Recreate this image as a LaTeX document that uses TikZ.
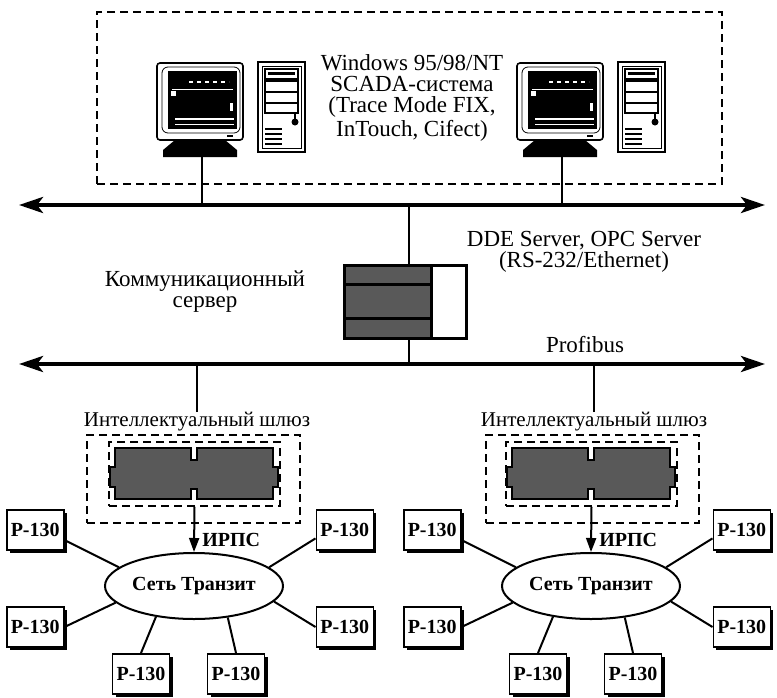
\documentclass[tikz,border=0pt]{standalone}
\usepackage{fontspec}
\setmainfont{Liberation Serif}
\usetikzlibrary{positioning, shapes.geometric, arrows.meta, shadows}

\tikzset{
  % workstation: monitor and tower
  pc/.pic={
    \draw[line width=0.8pt, fill=white, rounded corners=1.5pt] (0,0) rectangle (86,77);
    \draw[line width=0.4pt, rounded corners=3pt] (5,4) rectangle (83,70);
    \fill[black] (11,8) rectangle (80,66);
    \draw[white, line width=1.2pt, dash pattern=on 2pt off 2pt] (32,19) -- (72,19);
    \draw[white, line width=0.4pt] (15,26) -- (76,26);
    \fill[white] (14,28) rectangle (19,33);
    \fill[white] (73,40) rectangle (76,48);
    \draw[white, line width=1.2pt] (18,56) -- (77,56);
    \draw[white, line width=0.4pt] (18,61) -- (77,61);
    \draw[line width=0.8pt] (70,73) -- (76,73);
    \fill[black] (18,77) -- (68,77) -- (80,87) -- (80,94) -- (6,94) -- (6,87) -- cycle;
    \draw[line width=1.2pt, fill=white] (101,-1) rectangle (148,89);
    \draw[line width=0.4pt] (105,3) rectangle (144,85);
    \draw[line width=0.6pt] (108,6) rectangle (141,16);
    \fill (111,9) rectangle (138,12);
    \draw[line width=0.6pt] (108,18) rectangle (141,50);
    \draw[line width=0.6pt] (108,29) -- (141,29);
    \draw[line width=0.6pt] (108,40) -- (141,40);
    \draw[line width=0.6pt] (138,50) -- (138,56);
    \fill (138,59) circle (3.5);
    \draw[line width=1pt] (108,66) -- (125,66);
    \draw[line width=1pt] (108,71) -- (125,71);
    \draw[line width=1pt] (108,76) -- (125,76);
    \draw[line width=1pt] (108,81) -- (125,81);
  },
  % gateway board
  board/.pic={
    \draw[line width=1pt, fill=black!65]
      (5,0) -- (81,0) -- (81,12) -- (87,12) -- (87,0) -- (163,0) -- (163,19)
      -- (168,19) -- (168,39) -- (163,39) -- (163,51) -- (87,51) -- (87,41)
      -- (81,41) -- (81,51) -- (5,51) -- (5,39) -- (0,39) -- (0,19) -- (5,19) -- cycle;
  }
}

\begin{document}
\begin{tikzpicture}[x=0.5pt, y=-0.5pt,
  bus/.style={line width=2pt, {Stealth[length=12pt,width=8pt,inset=3pt]}-{Stealth[length=12pt,width=8pt,inset=3pt]}},
  wire/.style={line width=1pt},
  zone/.style={draw, line width=1.2pt, dash pattern=on 4pt off 2.5pt, inner sep=0pt},
  inzone/.style={draw, line width=0.9pt, dash pattern=on 4pt off 2.5pt, inner sep=0pt},
  modem/.style={draw, fill=white, line width=0.8pt, minimum width=28.5pt, minimum height=20pt,
    inner sep=0pt, font=\fontsize{10}{12}\selectfont\bfseries,
    drop shadow={opacity=1, fill=black, shadow xshift=1.5pt, shadow yshift=-1.5pt}},
  net/.style={draw, ellipse, fill=white, line width=1pt, minimum width=89pt, minimum height=33pt,
    inner sep=0pt, font=\fontsize{10}{12}\selectfont\bfseries},
  lbl/.style={align=center, inner sep=0pt, font=\fontsize{11.5}{10.5}\selectfont},
  gwtext/.style={inner sep=0pt, font=\fontsize{10.5}{12}\selectfont},
  irps/.style={inner sep=0pt, anchor=west, font=\fontsize{10}{12}\selectfont\bfseries}
]
  \useasboundingbox (0,0) rectangle (777,697);

  % operator level
  \node[zone, minimum width=312.5pt, minimum height=86pt] (scada) at (409.5,98) {};
  \pic at (157,63) {pc};
  \pic at (517,63) {pc};
  \coordinate (pcL) at (202,157);
  \coordinate (pcR) at (562,157);
  \node[lbl] (sys) at (412,98) {Windows 95/98/NT\\SCADA-система\\(Trace Mode FIX,\\InTouch, Cifect)};

  % buses
  \coordinate (aL) at (19,205);
  \coordinate (aR) at (765,205);
  \coordinate (bL) at (19,364);
  \coordinate (bR) at (765,364);
  \draw[bus] (aL) -- (aR);
  \draw[bus] (bL) -- (bR);

  % communication server
  \fill[black!65] (344,265) rectangle (431,338);
  \draw[line width=1.5pt] (344,284) -- (431,284);
  \draw[line width=1.5pt] (344,318) -- (431,318);
  \draw[line width=1.5pt] (431,265) -- (431,338);
  \node[draw, line width=1.5pt, minimum width=61pt, minimum height=36.5pt, inner sep=0pt] (srv) at (405,301.5) {};
  \node[lbl] (comm) at (205,292) {Коммуникационный\\сервер};
  \node[lbl] (dde) at (584,252) {DDE Server, OPC Server\\(RS-232/Ethernet)};
  \node[lbl] (pb) at (585,345) {Profibus};

  % gateways
  \node[gwtext] (lblL) at (197,422) {Интеллектуальный шлюз};
  \node[gwtext] (lblR) at (594,422) {Интеллектуальный шлюз};
  \node[zone, minimum width=106.5pt, minimum height=44pt] (zoneL) at (193.5,479) {};
  \node[zone, minimum width=106.5pt, minimum height=44pt] (zoneR) at (592.5,479) {};
  \node[inzone, minimum width=85.5pt, minimum height=32pt] (gwL) at (194.5,474) {};
  \node[inzone, minimum width=85.5pt, minimum height=32pt] (gwR) at (591.5,474) {};
  \pic at (110,448) {board};
  \pic at (507,448) {board};

  % transit networks
  \node[net] (netL) at (194,586) {Сеть Транзит};
  \node[net] (netR) at (591,586) {Сеть Транзит};
  \node[irps] (irpsL) at (202,540) {ИРПС};
  \node[irps] (irpsR) at (599,540) {ИРПС};

  \node[modem, left=19.75pt of netL, yshift=28pt]    (tlL) {Р-130};
  \node[modem, left=19.75pt of netL, yshift=-20.5pt] (mlL) {Р-130};
  \node[modem, right=15.75pt of netL, yshift=28pt]   (trL) {Р-130};
  \node[modem, right=15.75pt of netL, yshift=-20.5pt](mrL) {Р-130};
  \node[modem, below=16.5pt of netL, xshift=-26.5pt] (blL) {Р-130};
  \node[modem, below=16.5pt of netL, xshift=21pt]    (brL) {Р-130};

  \node[modem, left=19.75pt of netR, yshift=28pt]    (tlR) {Р-130};
  \node[modem, left=19.75pt of netR, yshift=-20.5pt] (mlR) {Р-130};
  \node[modem, right=15.75pt of netR, yshift=28pt]   (trR) {Р-130};
  \node[modem, right=15.75pt of netR, yshift=-20.5pt](mrR) {Р-130};
  \node[modem, below=16.5pt of netR, xshift=-26.5pt] (blR) {Р-130};
  \node[modem, below=16.5pt of netR, xshift=21pt]    (brR) {Р-130};

  % taps
  \draw[wire] (pcL) -- (pcL |- aL);
  \draw[wire] (pcR) -- (pcR |- aL);
  \draw[wire] ([xshift=2pt]srv.north) -- ([xshift=2pt]srv.north |- aL);
  \draw[wire] ([xshift=2pt]srv.south) -- ([xshift=2pt]srv.south |- bL);
  \draw[wire] (lblL.north) -- (lblL.north |- bL);
  \draw[wire] (lblR.north) -- (lblR.north |- bL);
  \draw[wire, -{Triangle[length=7pt,width=5pt]}] (gwL.south) -- (netL.north);
  \draw[wire, -{Triangle[length=7pt,width=5pt]}] (gwR.south) -- (netR.north);

  \draw[wire] (tlL.-19) -- (netL.166);
  \draw[wire] (mlL.east) -- (netL.192);
  \draw[wire] (trL.196) -- (netL.14);
  \draw[wire] (mrL.west) -- (netL.349);
  \draw[wire] (blL.north) -- (netL.219);
  \draw[wire] (brL.north) -- (netL.317);

  \draw[wire] (tlR.-19) -- (netR.166);
  \draw[wire] (mlR.east) -- (netR.192);
  \draw[wire] (trR.196) -- (netR.14);
  \draw[wire] (mrR.west) -- (netR.349);
  \draw[wire] (blR.north) -- (netR.219);
  \draw[wire] (brR.north) -- (netR.317);
\end{tikzpicture}
\end{document}
